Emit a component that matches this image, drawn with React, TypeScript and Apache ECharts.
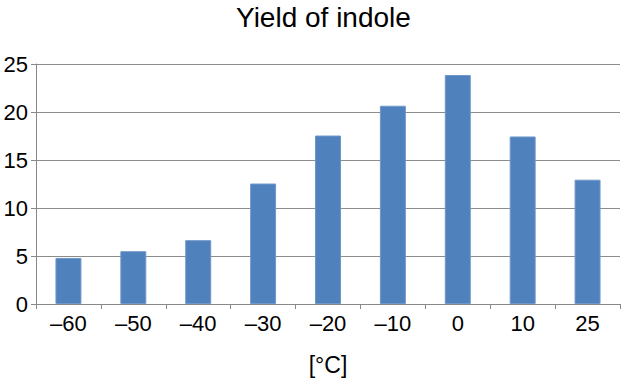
import React, { useEffect, useRef } from "react";
import * as echarts from "echarts";

const categories = ["–60", "–50", "–40", "–30", "–20", "–10", "0", "10", "25"];
const yieldValues = [4.8, 5.5, 6.65, 12.55, 17.55, 20.65, 23.85, 17.45, 12.95];
const chartTitle = "Yield of indole";
const xAxisName = "[°C]";

export default function App() {
  const ref = useRef<HTMLDivElement>(null);
  useEffect(() => {
    if (!ref.current) return;
    const chart = echarts.init(ref.current, undefined, { renderer: "svg" });
    const font = "'Liberation Sans', Arial, sans-serif";
    chart.setOption({
      animation: false,
      backgroundColor: "#ffffff",
      title: {
        text: chartTitle,
        left: 236,
        top: 3,
        padding: 0,
        textStyle: { fontFamily: font, fontSize: 28, fontWeight: "normal", color: "#000" },
      },
      grid: { left: 36, right: 4, top: 64, bottom: 74, containLabel: false },
      xAxis: {
        type: "category",
        data: categories,
        name: xAxisName,
        nameLocation: "middle",
        nameGap: 49,
        nameTextStyle: { fontFamily: font, fontSize: 23, color: "#000" },
        axisLine: { lineStyle: { color: "#888", width: 1 } },
        axisTick: { show: true, alignWithLabel: false, length: 5, lineStyle: { color: "#888" } },
        axisLabel: { fontFamily: font, fontSize: 22, color: "#000", margin: 8 },
      },
      yAxis: {
        type: "value",
        min: 0,
        max: 25,
        interval: 5,
        axisLine: { show: true, lineStyle: { color: "#888", width: 1 } },
        axisTick: { show: true, length: 5, lineStyle: { color: "#888" } },
        axisLabel: { fontFamily: font, fontSize: 22, color: "#000", margin: 8 },
        splitLine: { show: true, lineStyle: { color: "#8c8c8c", width: 1 } },
      },
      series: [
        {
          type: "bar",
          data: yieldValues,
          barWidth: "40%",
          itemStyle: { color: "#4F81BD", borderColor: "#6f97c9", borderWidth: 1 },
        },
      ],
    });
    return () => chart.dispose();
  }, []);
  return <div ref={ref} style={{ width: 624, height: 381, position: "absolute", left: 0, top: 0 }} />;
}
